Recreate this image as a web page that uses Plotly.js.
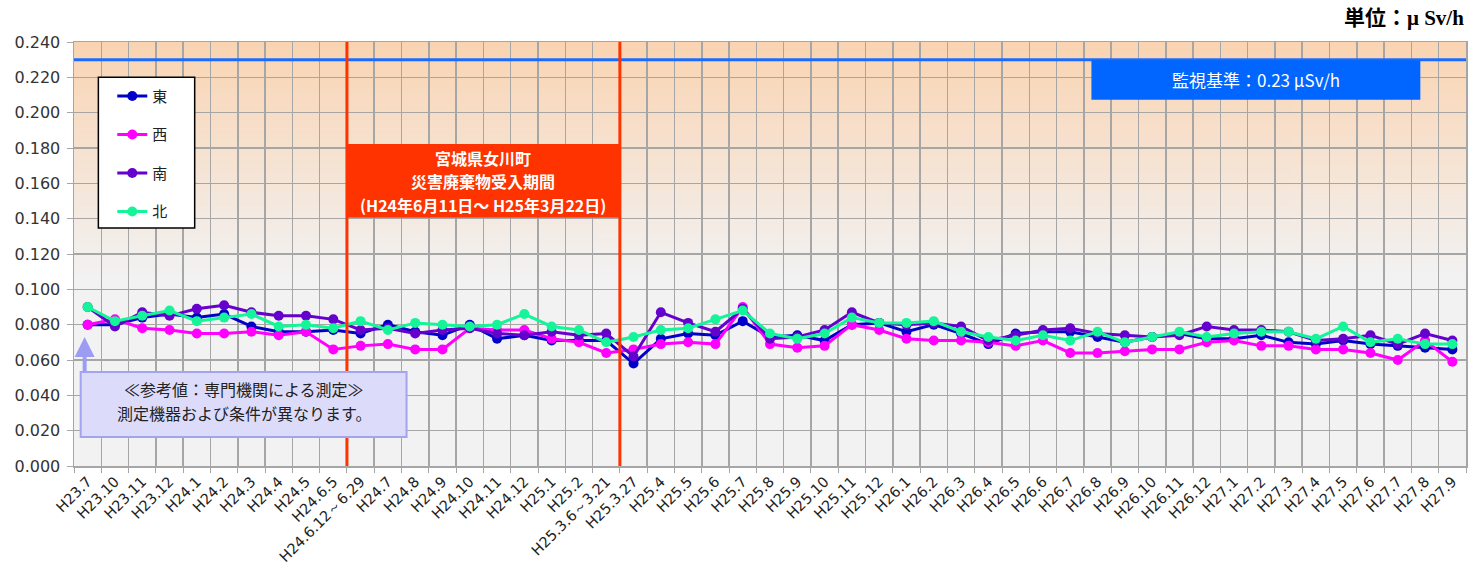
<!DOCTYPE html>
<html><head><meta charset="utf-8">
<script src="https://cdn.plot.ly/plotly-3.0.1.min.js"></script>
<style>html,body{margin:0;padding:0;background:#fff}#chart{width:1484px;height:579px}</style>
</head><body><div id="chart"></div>
<script>
const categories = ["H23.7","H23.10","H23.11","H23.12","H24.1","H24.2","H24.3","H24.4","H24.5","H24.6.5","H24.6.12～6.29","H24.7","H24.8","H24.9","H24.10","H24.11","H24.12","H25.1","H25.2","H25.3.6～3.21","H25.3.27","H25.4","H25.5","H25.6","H25.7","H25.8","H25.9","H25.10","H25.11","H25.12","H26.1","H26.2","H26.3","H26.4","H26.5","H26.6","H26.7","H26.8","H26.9","H26.10","H26.11","H26.12","H27.1","H27.2","H27.3","H27.4","H27.5","H27.6","H27.7","H27.8","H27.9"];
const east  = [0.080,0.080,0.084,0.086,0.084,0.086,0.079,0.076,0.076,0.077,0.075,0.080,0.076,0.074,0.080,0.072,0.074,0.071,0.071,0.071,0.058,0.072,0.075,0.074,0.082,0.073,0.074,0.071,0.080,0.081,0.076,0.080,0.075,0.069,0.075,0.076,0.076,0.073,0.070,0.073,0.075,0.072,0.072,0.074,0.070,0.069,0.071,0.069,0.068,0.067,0.066];
const west  = [0.080,0.083,0.078,0.077,0.075,0.075,0.076,0.074,0.076,0.066,0.068,0.069,0.066,0.066,0.078,0.077,0.077,0.072,0.070,0.064,0.066,0.069,0.070,0.069,0.090,0.069,0.067,0.068,0.080,0.077,0.072,0.071,0.071,0.070,0.068,0.071,0.064,0.064,0.065,0.066,0.066,0.070,0.071,0.068,0.068,0.066,0.066,0.064,0.060,0.071,0.059];
const south = [0.090,0.079,0.087,0.085,0.089,0.091,0.087,0.085,0.085,0.083,0.077,0.078,0.075,0.077,0.078,0.075,0.074,0.076,0.074,0.075,0.062,0.087,0.081,0.076,0.089,0.072,0.073,0.077,0.087,0.081,0.080,0.081,0.079,0.071,0.074,0.077,0.078,0.075,0.074,0.073,0.074,0.079,0.077,0.077,0.076,0.071,0.072,0.074,0.069,0.075,0.071];
const north = [0.090,0.082,0.085,0.088,0.082,0.084,0.086,0.079,0.080,0.078,0.082,0.077,0.081,0.080,0.079,0.080,0.086,0.079,0.077,0.070,0.073,0.077,0.078,0.083,0.088,0.075,0.072,0.075,0.084,0.081,0.081,0.082,0.076,0.073,0.071,0.074,0.071,0.076,0.070,0.073,0.076,0.073,0.075,0.076,0.076,0.072,0.079,0.070,0.072,0.069,0.069];
const seriesNames = ["東","西","南","北"];
const seriesColors = ["#0000c8","#ff00ff","#6600cc","#14f59a"];
const limitValue = 0.23;
const periodStart = "H24.6.12～6.29";
const periodEnd = "H25.3.27";
const periodLines = ["宮城県女川町","災害廃棄物受入期間","(H24年6月11日～ H25年3月22日)"];
const noteLines = ["≪参考値：専門機関による測定≫","測定機器および条件が異なります。"];

// gradient background
const cv = document.createElement('canvas'); cv.width = 4; cv.height = 400;
const cx = cv.getContext('2d');
const g = cx.createLinearGradient(0,0,0,400);
g.addColorStop(0,'#fad4b2'); g.addColorStop(0.55,'#f2f2f2'); g.addColorStop(1,'#f2f2f2');
cx.fillStyle = g; cx.fillRect(0,0,4,400);
const bgURL = cv.toDataURL();

const jp = '"Noto Sans CJK JP", "Noto Sans", sans-serif';
const num = '"DejaVu Sans", "Liberation Sans", sans-serif';
const data = [east,west,south,north].map((ys,k)=>({
  type:'scatter', mode:'lines+markers', x:categories, y:ys, name:seriesNames[k],
  legendgroup:'g'+k,
  line:{color:seriesColors[k], width:3}, marker:{color:seriesColors[k], size:10}
}));

const iStart = categories.indexOf(periodStart) - 0.5;
const iEnd = categories.indexOf(periodEnd) - 0.5;

const periodY = [0.1743, 0.1613, 0.1476];
const noteY = [0.1816, 0.125];
const annotations = [
  {xref:'paper', yref:'paper', x:1, y:1, xanchor:'right', yanchor:'bottom', yshift:10, showarrow:false,
   text:'<b>単位：μ Sv/h</b>', font:{size:21, family:'"Liberation Serif", "DejaVu Serif", "Noto Sans CJK JP", serif', color:'#000'}},
  {xref:'paper', yref:'y', x:(0.7309+0.9672)/2, y:0.2185, xanchor:'center', yanchor:'middle', showarrow:false,
   text:'監視基準：0.23 μSv/h', font:{size:17, family:jp, color:'#ffffff'}},
  {xref:'x', yref:'y', x:0, y:0.073, xshift:-3, ax:0, ay:36, showarrow:true, arrowhead:2, arrowsize:1, arrowwidth:4, arrowcolor:'#9c9cf5', text:''}
];
periodLines.forEach((t,i)=>annotations.push({xref:'x', yref:'y', x:(iStart+iEnd)/2, y:periodY[i], xanchor:'center', yanchor:'middle',
  showarrow:false, text:'<b>'+t+'</b>', font:{size:16, family:jp, color:'#ffffff'}}));
noteLines.forEach((t,i)=>annotations.push({xref:'paper', yref:'paper', x:(0.0048+0.2389)/2, y:noteY[i], xanchor:'center', yanchor:'middle',
  showarrow:false, text:t, font:{size:16, family:jp, color:'#222'}}));

const layout = {
  width:1484, height:579,
  margin:{l:74, r:18, t:42, b:113, autoexpand:false},
  paper_bgcolor:'#ffffff', plot_bgcolor:'rgba(0,0,0,0)',
  font:{family:jp, color:'#222'},
  showlegend:true,
  legend:{x:0.0275, y:0.911, xanchor:'left', yanchor:'top', bgcolor:'rgba(0,0,0,0)', borderwidth:0,
    font:{size:15, family:jp, color:'#222'}, tracegroupgap:16, itemwidth:30},
  xaxis:{type:'category', tickson:'boundaries', tickangle:-45, tickfont:{size:14.5, family:num, color:'#222'},
    showgrid:true, gridcolor:'#a6a6a6', gridwidth:1.5, ticks:'outside', ticklen:5, tickcolor:'#a6a6a6',
    showline:true, linecolor:'#a6a6a6', linewidth:1.5, mirror:true, range:[-0.5, categories.length-0.5], fixedrange:true, automargin:false},
  yaxis:{range:[0,0.24], dtick:0.02, tickformat:'.3f', tickfont:{size:16, family:num, color:'#333'},
    showgrid:true, gridcolor:'#a6a6a6', gridwidth:1.5, ticks:'outside', ticklen:6, tickcolor:'#a6a6a6',
    showline:true, linecolor:'#a6a6a6', linewidth:1.5, mirror:true, zeroline:false, fixedrange:true, ticklabelstandoff:3, automargin:false},
  images:[{source:bgURL, xref:'paper', yref:'paper', x:0, y:1, sizex:1, sizey:1, sizing:'stretch', layer:'below'}],
  shapes:[
    {type:'line', xref:'paper', yref:'y', x0:0, x1:1, y0:limitValue, y1:limitValue, line:{color:'#1a6cff', width:3}, layer:'above'},
    {type:'line', xref:'x', yref:'paper', x0:iStart, x1:iStart, y0:0, y1:1, line:{color:'#ff3300', width:3}, layer:'above'},
    {type:'line', xref:'x', yref:'paper', x0:iEnd, x1:iEnd, y0:0, y1:1, line:{color:'#ff3300', width:3}, layer:'above'},
    {type:'rect', xref:'x', yref:'y', x0:iStart, x1:iEnd, y0:0.1405, y1:0.1822, fillcolor:'#ff3300', line:{width:0}, layer:'above'},
    {type:'rect', xref:'paper', yref:'y', x0:0.7309, x1:0.9672, y0:0.2073, y1:0.2297, fillcolor:'#0066ff', line:{width:0}, layer:'above'},
    {type:'rect', xref:'paper', yref:'paper', x0:0.0048, x1:0.2389, y0:0.0684, y1:0.2217, fillcolor:'#dcdcfa', line:{color:'#a3a3f0', width:2}, layer:'above'},
    {type:'rect', xref:'paper', yref:'paper', x0:0.0175, x1:0.0867, y0:0.5613, y1:0.9167, fillcolor:'#ffffff', line:{color:'#000000', width:1.5}, layer:'above'}
  ],
  annotations:annotations
};
Plotly.newPlot('chart', data, layout, {displayModeBar:false, staticPlot:true});
</script></body></html>
